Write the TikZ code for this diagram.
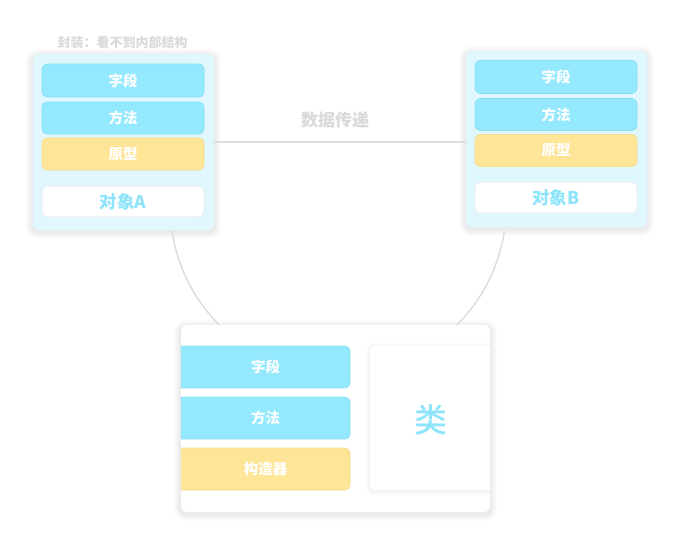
\documentclass[tikz,border=0pt]{standalone}
\usepackage{fontspec}
\setmainfont{Noto Sans CJK SC}
\newfontfamily\cjkmedium{Noto Sans CJK SC Medium}
\usetikzlibrary{calc}
\definecolor{fieldblue}{HTML}{94E9FE}
\definecolor{fieldedge}{HTML}{88DEF5}
\definecolor{protoyellow}{HTML}{FFE597}
\definecolor{protoedge}{HTML}{F5DC8E}
\definecolor{panelcyan}{HTML}{E0F7FD}
\definecolor{objtext}{HTML}{8EE5FB}
\definecolor{softgray}{HTML}{DADADA}
\definecolor{linegray}{HTML}{DCDCDC}
\pgfdeclarelayer{shadowlayer}
\pgfsetlayers{shadowlayer,main}
\begin{document}
\begin{tikzpicture}[x=1pt,y=-1pt,
  panel/.style={fill=panelcyan, rounded corners=6pt, inner sep=0pt,
    minimum width=181pt, minimum height=176pt},
  cpanel/.style={fill=white, rounded corners=6pt, inner sep=0pt,
    minimum width=309pt, minimum height=187pt},
  shadowring/.style={fill=black, fill opacity=0.011},
  bluebox/.style={fill=fieldblue, draw=fieldedge, line width=0.7pt, rounded corners=5pt, inner sep=0pt,
    text=white, font=\bfseries\fontsize{14.5}{16}\selectfont},
  yellowbox/.style={fill=protoyellow, draw=protoedge, line width=0.7pt, rounded corners=5pt, inner sep=0pt,
    text=white, font=\bfseries\fontsize{14.5}{16}\selectfont},
  objbox/.style={fill=white, draw=panelcyan!60!gray!35, line width=0.7pt, rounded corners=5pt, inner sep=0pt,
    text=objtext, font=\bfseries\fontsize{17.5}{19}\selectfont,
    minimum width=162pt, minimum height=31pt},
  boxlabel/.style={text=white, font=\bfseries\fontsize{14.5}{16}\selectfont, inner sep=0pt},
  note/.style={text=softgray, font=\bfseries\fontsize{13}{15}\selectfont, inner sep=0pt},
  wire/.style={draw=linegray, line width=1.6pt}
]
\begin{pgfonlayer}{shadowlayer}
\fill[white] (0,0) rectangle (700,552);
\end{pgfonlayer}
\useasboundingbox (0,0) rectangle (700,552);

% arc behind everything
\coordinate (arcstart) at (172,231);
\draw[wire, line width=1.4pt] (arcstart) arc[start angle=171.5, end angle=8.5, radius=168];

% panels
\node[panel] (apanel) at (123.5,142) {};
\node[panel] (bpanel) at (556.5,139) {};
\node[cpanel] (cpanel) at (335.5,418.5) {};

% soft shadows
\begin{pgfonlayer}{shadowlayer}
\foreach \p in {apanel,bpanel,cpanel}{
  \foreach \d in {1,...,7}{
    \fill[shadowring, rounded corners=6pt+\d pt]
      ($(\p.north west)+(-\d,-\d+2)$) rectangle ($(\p.south east)+(\d,\d+2)$);
  }
}
\end{pgfonlayer}

% data transfer line
\draw[wire] (apanel.east) -- (apanel.east -| bpanel.west);
\node[note, font=\bfseries\fontsize{17}{19}\selectfont] (transfer) at (335,120) {数据传递};
\node[note] (encap) at (122.5,43) {封装：看不到内部结构};

% object A
\node[bluebox, minimum width=162pt, minimum height=33pt] (afield) at (123,80.5) {字段};
\node[bluebox, minimum width=162pt, minimum height=32pt] (amethod) at (123,118) {方法};
\node[yellowbox, minimum width=162pt, minimum height=32pt] (aproto) at (123,154) {原型};
\node[objbox] (aname) at (123,201.5) {对象A};

% object B
\node[bluebox, minimum width=162pt, minimum height=33pt] (bfield) at (556,77) {字段};
\node[bluebox, minimum width=162pt, minimum height=32pt] (bmethod) at (556,114.5) {方法};
\node[yellowbox, minimum width=162pt, minimum height=32pt] (bproto) at (556,150.5) {原型};
\node[objbox] (bname) at (556,197.5) {对象B};

% class panel contents
\begin{scope}
  \clip[rounded corners=6pt] (cpanel.north west) rectangle (cpanel.south east);
  \node[bluebox, minimum width=200pt, minimum height=42pt] (cfield) at (250,367) {};
  \node[bluebox, minimum width=200pt, minimum height=42pt] (cmethod) at (250,418) {};
  \node[yellowbox, minimum width=200pt, minimum height=42pt] (cctor) at (250,469) {};
  \foreach \d in {1,...,4}{
    \fill[shadowring, fill opacity=0.012, rounded corners=5pt+\d pt] (370-\d,346-\d+1) rectangle (530+\d,490+\d+1);
  }
  \node[fill=white, rounded corners=5pt, minimum width=160pt, minimum height=144pt, inner sep=0pt] (cbox) at (450,418) {};
\end{scope}
\node[boxlabel] (cfieldtext) at (265.5,367) {字段};
\node[boxlabel] (cmethodtext) at (265.5,418) {方法};
\node[boxlabel] (cctortext) at (265.5,469) {构造器};
\node[text=objtext, font=\cjkmedium\fontsize{33}{36}\selectfont, inner sep=0pt] (cname) at (431,420) {类};
\end{tikzpicture}
\end{document}
